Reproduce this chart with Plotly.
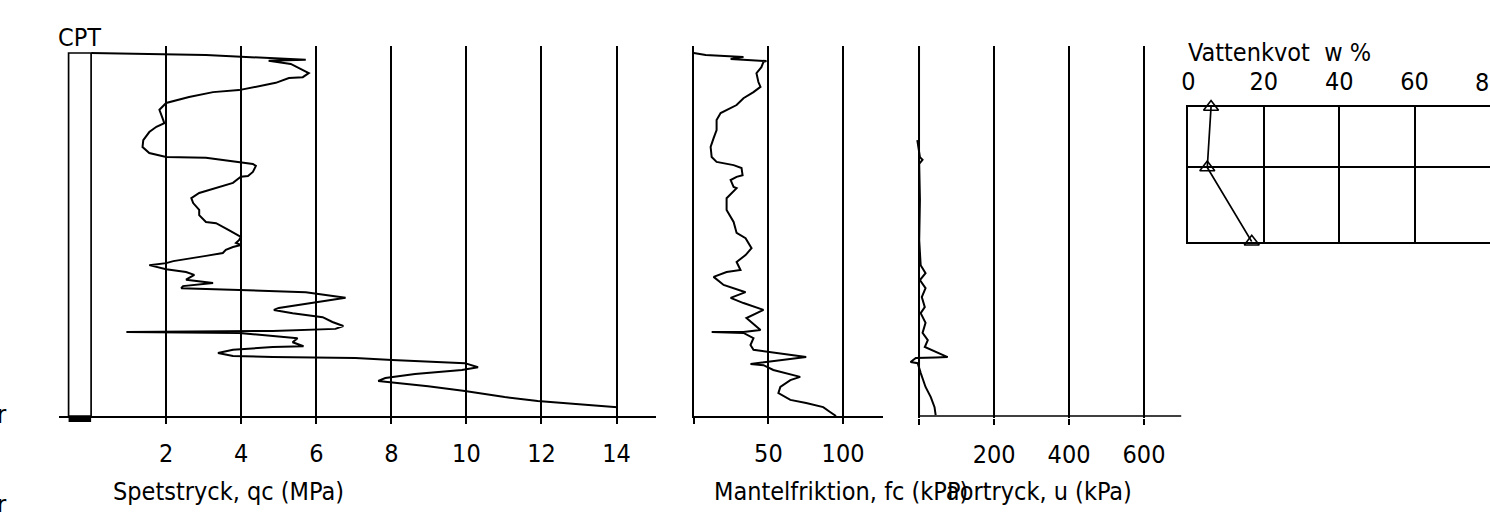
import plotly.graph_objects as go

W, H = 1490, 512

# ---------------- data ----------------
# Cone resistance qc (MPa) vs depth (m)
qc_depth = [0.00, 0.05, 0.17, 0.19, 0.27, 0.50, 0.60, 0.62, 0.74, 0.92, 0.97, 1.09, 1.24, 1.41,
            1.66, 1.74, 1.83, 1.96, 2.16, 2.33, 2.48, 2.58, 2.60, 2.70, 2.75, 2.80, 2.95, 3.05,
            3.07, 3.22, 3.35, 3.47, 3.60, 3.72, 3.89, 4.02, 4.19, 4.22, 4.39, 4.56, 4.64, 4.71,
            4.76, 4.81, 4.88, 4.96, 5.03, 5.16, 5.21, 5.26, 5.36, 5.43, 5.50, 5.62, 5.70, 5.78,
            5.83, 5.88, 5.93, 6.07, 6.17, 6.32, 6.37, 6.45, 6.55, 6.67, 6.77, 6.84, 6.89, 6.92,
            6.94, 7.04, 7.07, 7.17, 7.27, 7.29, 7.36, 7.44, 7.51, 7.54, 7.56, 7.61, 7.69, 7.79,
            7.86, 7.96, 8.06, 8.13, 8.18, 8.26, 8.38, 8.53, 8.63, 8.70, 8.78]
qc_values = [0.00, 3.06, 5.72, 4.73, 5.32, 5.80, 5.64, 5.27, 4.92, 3.94, 3.25, 2.61, 2.00, 1.82,
             1.92, 1.95, 1.74, 1.55, 1.39, 1.37, 1.55, 2.00, 3.06, 3.94, 4.31, 4.39, 4.31, 4.18,
             3.99, 3.78, 3.33, 2.88, 2.67, 2.72, 2.88, 2.88, 3.06, 3.33, 3.67, 3.99, 3.94, 3.86,
             3.99, 3.78, 3.59, 3.51, 3.06, 2.19, 2.00, 1.55, 2.00, 2.53, 2.75, 2.53, 3.25, 2.45,
             2.40, 3.94, 5.72, 6.78, 6.06, 5.00, 4.87, 5.37, 6.17, 6.43, 6.72, 6.51, 4.84, 0.94,
             3.94, 5.19, 5.50, 5.37, 5.66, 4.84, 3.78, 3.38, 3.78, 4.84, 7.04, 8.02, 9.96, 10.31,
             9.88, 8.63, 7.84, 7.65, 8.18, 8.98, 9.96, 11.02, 11.90, 12.96, 14.02]

# Sleeve friction fc (kPa) vs depth (m)
fc_depth = [0.00, 0.05, 0.10, 0.15, 0.20, 0.22, 0.35, 0.50, 0.72, 0.84, 0.97, 1.12, 1.29, 1.41,
            1.49, 1.66, 1.91, 2.11, 2.33, 2.58, 2.70, 2.78, 2.85, 3.03, 3.07, 3.15, 3.32, 3.35,
            3.60, 3.89, 4.19, 4.46, 4.59, 4.84, 5.01, 5.18, 5.38, 5.43, 5.55, 5.75, 5.93, 6.07,
            6.20, 6.37, 6.57, 6.87, 6.92, 6.92, 6.94, 7.07, 7.24, 7.36, 7.54, 7.71, 7.74, 7.86,
            8.03, 8.11, 8.28, 8.43, 8.60, 8.68, 8.78, 8.90, 9.00]
fc_values = [0.0, 8.0, 33.3, 24.7, 48.7, 46.7, 45.3, 42.0, 43.3, 44.7, 40.0, 33.3, 28.7, 22.0,
             18.0, 15.3, 15.3, 13.3, 11.3, 12.0, 15.3, 26.7, 32.0, 32.7, 28.7, 24.7, 26.7, 28.7,
             22.0, 22.0, 26.7, 28.7, 34.7, 38.7, 34.7, 28.7, 31.3, 22.0, 13.3, 20.0, 34.7, 24.7,
             33.3, 46.7, 35.3, 44.7, 33.3, 12.0, 33.3, 40.0, 38.0, 40.0, 75.3, 38.0, 46.7, 53.3,
             71.3, 64.7, 58.0, 56.7, 64.7, 75.3, 86.7, 91.3, 95.3]

# Pore pressure u (kPa) vs depth (m)
u_depth = [2.16, 2.41, 2.58, 2.65, 2.75, 3.64, 4.64, 5.26, 5.46, 5.63, 5.83, 6.05, 6.30, 6.45,
           6.69, 6.94, 7.12, 7.29, 7.41, 7.54, 7.55, 7.56, 7.66, 7.69, 7.93, 8.28, 8.53, 8.78, 8.98]
u_values = [-5, 0, 2, 9, 0, 2, 0, 4, 17, 2, 17, 7, 15, 4,
            17, 9, 23, 15, 44, 76, 44, -9, -23, -4, 4, 17, 31, 41, 44]

# Water content w (%) vs depth (m)
w_depth = [1.34, 2.84, 4.68]
w_values = [6.0, 5.0, 16.8]

end_depth = 9.0
qc_ticks = [2, 4, 6, 8, 10, 12, 14]
fc_ticks = [0, 50, 100]
fc_ticklabels = ["", "50", "100"]
u_ticks = [0, 200, 400, 600]
u_ticklabels = ["", "200", "400", "600"]
w_ticks = [0, 20, 40, 60, 80]
w_ticklabels = ["0", "20", "40", "60", ""]
w_edge_label = "8"   # the "80" label is cut by the right edge of the sheet
cpt_box_qc = [-0.6, 0.0]

# ---------------- layout helpers ----------------
FONT = "DejaVu Sans Condensed, Liberation Sans Narrow, Roboto, sans-serif"
FS = 25
BLK = "black"
LW = 2.0
GW = 1.7
PXM = 40.33  # pixels per metre of depth


def px(x):
    return x / W


def py(y):
    return 1 - y / H


fig = go.Figure()

# qc curve
fig.add_trace(go.Scatter(x=qc_values, y=qc_depth, mode="lines", line=dict(color=BLK, width=LW),
                         xaxis="x", yaxis="y", showlegend=False, hoverinfo="skip"))
# CPT column box
fig.add_trace(go.Scatter(x=[cpt_box_qc[1], cpt_box_qc[0], cpt_box_qc[0], cpt_box_qc[1], cpt_box_qc[1]],
                         y=[0, 0, end_depth, end_depth, 0], mode="lines",
                         line=dict(color=BLK, width=GW), xaxis="x", yaxis="y",
                         showlegend=False, hoverinfo="skip"))
# fc curve
fig.add_trace(go.Scatter(x=fc_values, y=fc_depth, mode="lines", line=dict(color=BLK, width=LW),
                         xaxis="x2", yaxis="y2", showlegend=False, hoverinfo="skip"))
# u curve
fig.add_trace(go.Scatter(x=u_values, y=u_depth, mode="lines", line=dict(color=BLK, width=LW),
                         xaxis="x3", yaxis="y3", showlegend=False, hoverinfo="skip"))
# water content
fig.add_trace(go.Scatter(x=w_values, y=w_depth, mode="lines+markers",
                         line=dict(color=BLK, width=GW),
                         marker=dict(symbol="triangle-up-open", size=13, color=BLK,
                                     line=dict(color=BLK, width=1.6)),
                         cliponaxis=False,
                         xaxis="x4", yaxis="y4", showlegend=False, hoverinfo="skip"))

ydom_main = [py(416), py(46)]
yr_main = [end_depth, -7 / PXM]
ydom_u = [py(418), py(46)]
yr_u = [end_depth + 2 / PXM, -7 / PXM]

common_x = dict(showgrid=True, gridcolor=BLK, gridwidth=GW, zeroline=False,
                ticks="outside", ticklen=6, tickwidth=GW, tickcolor=BLK,
                tickfont=dict(family=FONT, size=FS, color=BLK), ticklabelstandoff=8,
                fixedrange=True)
common_y = dict(showgrid=False, zeroline=False, showticklabels=False, ticks="",
                fixedrange=True)

fig.update_layout(
    width=W, height=H,
    margin=dict(l=0, r=0, t=0, b=0),
    paper_bgcolor="white", plot_bgcolor="rgba(0,0,0,0)",
    xaxis=dict(domain=[px(52), px(652)], range=[-0.862, 15.05], tickvals=qc_ticks,
               showline=True, linecolor=BLK, linewidth=GW, anchor="y", **common_x),
    yaxis=dict(domain=ydom_main, range=yr_main, anchor="x", showline=False, **common_y),
    xaxis2=dict(domain=[px(690), px(880)], range=[0, 126.67], tickvals=fc_ticks,
                ticktext=fc_ticklabels, showline=True, linecolor=BLK, linewidth=GW,
                anchor="y2", **common_x),
    yaxis2=dict(domain=ydom_main, range=yr_main, anchor="x2", showline=True,
                linecolor=BLK, linewidth=GW, **common_y),
    xaxis3=dict(domain=[px(905), px(1180)], range=[-30.5, 700], tickvals=u_ticks,
                ticktext=u_ticklabels, showline=False, anchor="y3", **common_x),
    yaxis3=dict(domain=ydom_u, range=yr_u, anchor="x3", showline=False, **common_y),
    xaxis4=dict(domain=[px(1187), 1.0], range=[0, 80], tickvals=w_ticks,
                ticktext=w_ticklabels, side="top",
                showgrid=True, gridcolor=BLK, gridwidth=GW, zeroline=False,
                showline=True, mirror=True, linecolor=BLK, linewidth=GW, ticks="",
                tickfont=dict(family=FONT, size=FS, color=BLK), ticklabelstandoff=5,
                anchor="y4", fixedrange=True),
    yaxis4=dict(domain=[py(241.7), py(107)], range=[4.68, 1.34], tickvals=[2.84],
                showgrid=True, gridcolor=BLK, gridwidth=GW, zeroline=False,
                showticklabels=False, ticks="", showline=True, mirror=False,
                linecolor=BLK, linewidth=GW, anchor="x4", fixedrange=True),
    shapes=[
        # filled foot of the CPT column, below the baseline
        dict(type="rect", xref="x", yref="paper", x0=cpt_box_qc[0], x1=cpt_box_qc[1],
             y0=py(422), y1=py(416), fillcolor=BLK, line=dict(width=0)),
        # pore pressure baseline and zero line
        dict(type="line", xref="x3", yref="y3", x0=0, x1=700, y0=end_depth, y1=end_depth,
             line=dict(color=BLK, width=GW)),
        dict(type="line", xref="x3", yref="y3", x0=0, x1=0, y0=end_depth, y1=yr_main[1],
             line=dict(color=BLK, width=GW)),
    ],
)

ann_font = dict(family=FONT, size=FS, color=BLK)
annots = [
    ("CPT", 49, 37),
    ("Spetstryck, qc (MPa)", 104, 491),
    ("Mantelfriktion, fc (kPa)", 708, 491),
    ("Portryck, u (kPa)", 942, 491),
    ("Vattenkvot  w %", 1185, 52),
]
for txt, x, y in annots:
    fig.add_annotation(text=txt, x=px(x), y=py(y), xref="paper", yref="paper",
                       xanchor="left", yanchor="middle", showarrow=False, font=ann_font)
# the tick label at 80 % cut by the sheet edge
fig.add_annotation(text=w_edge_label, x=1.0, y=py(82), xref="paper", yref="paper",
                   xanchor="right", yanchor="middle", showarrow=False, font=ann_font,
                   borderpad=0)
for y in (414, 504):
    fig.add_annotation(text="r", x=px(-12), y=py(y), xref="paper", yref="paper",
                       xanchor="left", yanchor="middle", showarrow=False, font=ann_font)

fig.write_html(
    "out.html", config={"displayModeBar": False},
    post_script=(
        "document.documentElement.style.overflow='hidden';"
        "document.body.style.margin='0';document.body.style.overflow='hidden';"
    ),
)
